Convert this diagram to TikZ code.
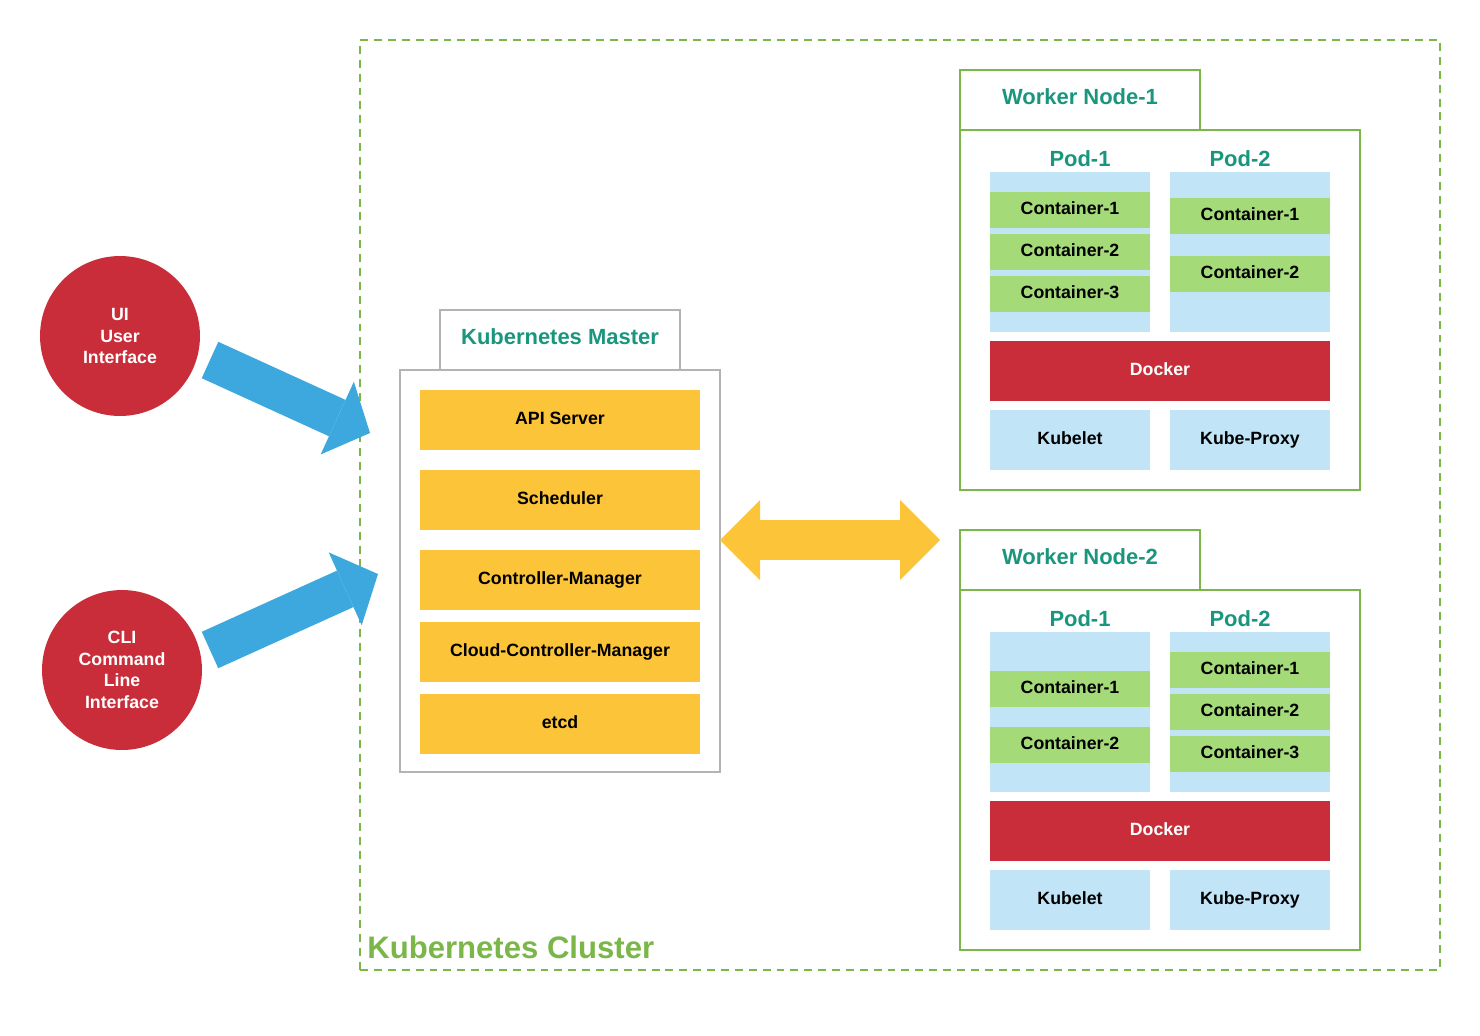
\documentclass[tikz,border=0pt]{standalone}
\usepackage{fontspec}
\setmainfont{Liberation Sans}
\usetikzlibrary{arrows.meta}

\definecolor{clusterGreen}{HTML}{7AB648}
\definecolor{titleTeal}{HTML}{19967D}
\definecolor{masterGray}{HTML}{B3B3B3}
\definecolor{compYellow}{HTML}{FCC438}
\definecolor{podBlue}{HTML}{C1E4F7}
\definecolor{ctrGreen}{HTML}{A5DA79}
\definecolor{dockRed}{HTML}{C92D39}
\definecolor{arrowBlue}{HTML}{3DA8DE}

\tikzset{
  lbl/.style={font=\fontsize{10.1pt}{12.3pt}\selectfont\bfseries, align=center},
  ttl/.style={font=\fontsize{12.5pt}{15pt}\selectfont\bfseries, text=titleTeal,
    text height=0.75em, text depth=0.25em},
  block/.style={rectangle, inner sep=0pt, lbl, text height=0.75em, text depth=0.25em},
  client/.style={circle, fill=dockRed, minimum size=3.2cm, inner sep=0pt, lbl, text=white},
  mastertab/.style={block, ttl, draw=masterGray, line width=1.1pt, fill=white, minimum width=4.8cm, minimum height=1.2cm},
  masterbox/.style={block, draw=masterGray, line width=1.1pt, fill=white, minimum width=6.4cm, minimum height=8.04cm},
  comp/.style={block, fill=compYellow, minimum width=5.6cm, minimum height=1.2cm},
  worktab/.style={block, ttl, draw=clusterGreen, line width=1.1pt, fill=white, minimum width=4.8cm, minimum height=1.2cm},
  workbox/.style={block, draw=clusterGreen, line width=1.1pt, fill=white, minimum width=8cm, minimum height=7.2cm},
  pod/.style={block, fill=podBlue, minimum width=3.2cm, minimum height=3.2cm},
  ctr/.style={block, fill=ctrGreen, minimum width=3.2cm, minimum height=0.72cm},
  docker/.style={block, fill=dockRed, text=white, minimum width=6.8cm, minimum height=1.2cm},
  agent/.style={block, fill=podBlue, minimum width=3.2cm, minimum height=1.2cm},
  bluearrow/.style={draw=arrowBlue, line width=0.8cm,
    -{Triangle[length=0.72cm, width=1.6cm, line width=0pt]}},
  dualarrow/.style={draw=compYellow, line width=0.8cm,
    {Triangle[length=0.8cm, width=1.6cm, line width=0pt]}-{Triangle[length=0.8cm, width=1.6cm, line width=0pt]}}
}

\begin{document}
\begin{tikzpicture}[x=0.02cm, y=-0.02cm]
  \useasboundingbox (0,0) rectangle (1480,1035);

  % cluster frame
  \node[draw=clusterGreen, line width=1.1pt, dash pattern=on 4.5pt off 3.4pt,
    minimum width=21.6cm, minimum height=18.6cm, inner sep=0pt] (cluster) at (900,505) {};
  \node[anchor=base west, inner sep=0pt, text=clusterGreen,
    font=\fontsize{17.7pt}{20pt}\selectfont\bfseries] (cluster-name) at (367,958) {Kubernetes Cluster};

  % clients
  \node[client] (ui) at (120,336) {UI\\User\\Interface};
  \node[client] (cli) at (122,670) {CLI\\Command\\Line\\Interface};
  \coordinate (uiTail) at (210,360);
  \coordinate (uiTip) at (370,433);
  \coordinate (cliTail) at (210,650);
  \coordinate (cliTip) at (378,574);
  \draw[bluearrow] (uiTail) -- (uiTip);
  \draw[bluearrow] (cliTail) -- (cliTip);

  % master
  \node[mastertab] (master-tab) at (560,340) {Kubernetes Master};
  \node[masterbox] (master) at (560,571) {};
  \foreach \y/\name/\txt in {420/api/API Server, 500/sched/Scheduler,
      580/cm/Controller-Manager, 652/ccm/Cloud-Controller-Manager, 724/etcd/etcd}
    \node[comp] (\name) at (560,\y) {\txt};

  % master <-> workers
  \coordinate (hubL) at (720,540);
  \coordinate (hubR) at (940,540);
  \draw[dualarrow] (hubL) -- (hubR);

  % worker nodes
  \foreach \n/\dy in {1/0,2/460}{
    \node[worktab] (w\n-tab) at (1080,100+\dy) {Worker Node-\n};
    \node[workbox] (w\n) at (1160,310+\dy) {};
    \node[pod] (w\n-pod1) at (1070,252+\dy) {};
    \node[pod] (w\n-pod2) at (1250,252+\dy) {};
    \node[ttl] (w\n-pod1-name) at (1080,162+\dy) {Pod-1};
    \node[ttl] (w\n-pod2-name) at (1240,162+\dy) {Pod-2};
    \node[docker] (w\n-docker) at (1160,371+\dy) {Docker};
    \node[agent] (w\n-kubelet) at (1070,440+\dy) {Kubelet};
    \node[agent] (w\n-proxy) at (1250,440+\dy) {Kube-Proxy};
  }

  % containers
  \foreach \p/\x/\y/\k in {1/1070/210/1, 1/1070/252/2, 1/1070/294/3,
      2/1250/216/1, 2/1250/274/2}
    \node[ctr] (w1-p\p-c\k) at (\x,\y) {Container-\k};
  \foreach \p/\x/\y/\k in {1/1070/689/1, 1/1070/745/2,
      2/1250/670/1, 2/1250/712/2, 2/1250/754/3}
    \node[ctr] (w2-p\p-c\k) at (\x,\y) {Container-\k};
\end{tikzpicture}
\end{document}
